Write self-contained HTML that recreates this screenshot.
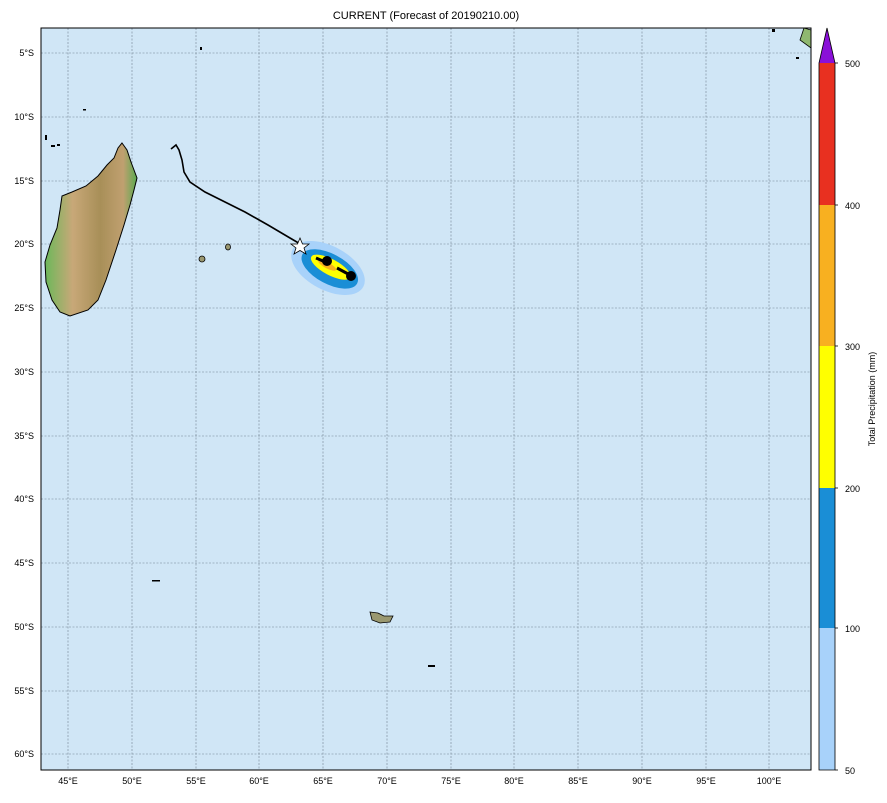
<!DOCTYPE html><html><head><style>body{margin:0;background:#fff;font-family:"Liberation Sans",sans-serif}</style></head><body>
<svg width="887" height="798" xmlns="http://www.w3.org/2000/svg" font-family="Liberation Sans, sans-serif">
<defs><linearGradient id="mg" x1="0" x2="1"><stop offset="0" stop-color="#6cb85a"/><stop offset="0.3" stop-color="#c8a878"/><stop offset="0.6" stop-color="#a88f58"/><stop offset="0.85" stop-color="#c0a070"/><stop offset="1" stop-color="#5aaa50"/></linearGradient></defs>
<text x="426" y="19" font-size="11" text-anchor="middle">CURRENT (Forecast of 20190210.00)</text>
<rect x="41" y="28" width="770" height="742" fill="#d0e6f6"/>
<g stroke="#4a5a68" stroke-width="0.6" stroke-dasharray="2,1.5" opacity="0.7">
<line x1="68" y1="28" x2="68" y2="770"/><line x1="132" y1="28" x2="132" y2="770"/><line x1="196" y1="28" x2="196" y2="770"/><line x1="259" y1="28" x2="259" y2="770"/><line x1="323" y1="28" x2="323" y2="770"/><line x1="387" y1="28" x2="387" y2="770"/><line x1="451" y1="28" x2="451" y2="770"/><line x1="514" y1="28" x2="514" y2="770"/><line x1="578" y1="28" x2="578" y2="770"/><line x1="642" y1="28" x2="642" y2="770"/><line x1="706" y1="28" x2="706" y2="770"/><line x1="769" y1="28" x2="769" y2="770"/>
<line x1="41" y1="53" x2="811" y2="53"/><line x1="41" y1="117" x2="811" y2="117"/><line x1="41" y1="181" x2="811" y2="181"/><line x1="41" y1="244" x2="811" y2="244"/><line x1="41" y1="308" x2="811" y2="308"/><line x1="41" y1="372" x2="811" y2="372"/><line x1="41" y1="436" x2="811" y2="436"/><line x1="41" y1="499" x2="811" y2="499"/><line x1="41" y1="563" x2="811" y2="563"/><line x1="41" y1="627" x2="811" y2="627"/><line x1="41" y1="691" x2="811" y2="691"/><line x1="41" y1="754" x2="811" y2="754"/>
</g>
<path d="M122,143 L127,150 L131,162 L137,178 L134,190 L130,205 L124,225 L116,250 L106,280 L98,300 L88,310 L70,316 L60,312 L52,300 L46,282 L45,262 L50,245 L57,228 L60,210 L62,196 L72,192 L86,186 L98,176 L107,165 L114,158 L118,148 Z" fill="url(#mg)" stroke="#000" stroke-width="1"/>
<path d="M804,28 L811,30 L811,48 L800,40 Z" fill="#8fb870" stroke="#000" stroke-width="0.8"/>
<ellipse cx="202" cy="259" rx="3" ry="3" fill="#9a9870" stroke="#000" stroke-width="0.8"/>
<ellipse cx="228" cy="247" rx="2.5" ry="3" fill="#9a9870" stroke="#000" stroke-width="0.8"/>
<path d="M370,612 L378,613 L384,616 L393,616 L390,622 L380,623 L372,620 Z" fill="#9a9870" stroke="#000" stroke-width="0.8"/>
<g fill="#000"><rect x="45" y="135" width="2" height="5"/><rect x="51" y="145" width="4" height="2"/><rect x="57" y="144" width="3" height="2"/><rect x="200" y="47" width="2" height="3"/><rect x="83" y="109" width="3" height="1.5"/><rect x="152" y="580" width="8" height="1.5"/><rect x="428" y="665" width="7" height="2"/><rect x="772" y="29" width="3" height="3"/><rect x="796" y="57" width="3" height="2"/></g>
<path d="M171,149 L176,145 L179,150 L182,160 L184,172 L190,182 L205,192 L225,202 L245,212 L268,225 L290,238 L302,245" fill="none" stroke="#000" stroke-width="1.6"/>
<g transform="rotate(28 328 268)">
<ellipse cx="328" cy="268" rx="40" ry="22" fill="#a8d2fa"/>
<ellipse cx="330" cy="268" rx="31" ry="15" fill="#1a8ed6"/>
<ellipse cx="330" cy="266" rx="22" ry="8" fill="#ffff00"/>
<ellipse cx="326" cy="266" rx="10" ry="3" fill="#f8b020"/>
</g>
<path d="M316,258 L330,264 M337,268 L350,275" stroke="#000" stroke-width="3"/>
<circle cx="327" cy="261" r="5" fill="#000"/><circle cx="351" cy="276" r="5" fill="#000"/>
<polygon points="300,238 302.5,244 309,244 304,248 306,254 300,250.5 294,254 296,248 291,244 297.5,244" fill="#fff" stroke="#000" stroke-width="0.8"/>
<rect x="41" y="28" width="770" height="742" fill="none" stroke="#000" stroke-width="1"/>
<g font-size="9" text-anchor="middle">
<text x="68" y="784">45°E</text><text x="132" y="784">50°E</text><text x="196" y="784">55°E</text><text x="259" y="784">60°E</text><text x="323" y="784">65°E</text><text x="387" y="784">70°E</text><text x="451" y="784">75°E</text><text x="514" y="784">80°E</text><text x="578" y="784">85°E</text><text x="642" y="784">90°E</text><text x="706" y="784">95°E</text><text x="769" y="784">100°E</text>
</g>
<g font-size="9" text-anchor="end">
<text x="34" y="56">5°S</text><text x="34" y="120">10°S</text><text x="34" y="184">15°S</text><text x="34" y="247">20°S</text><text x="34" y="311">25°S</text><text x="34" y="375">30°S</text><text x="34" y="439">35°S</text><text x="34" y="502">40°S</text><text x="34" y="566">45°S</text><text x="34" y="630">50°S</text><text x="34" y="694">55°S</text><text x="34" y="757">60°S</text>
</g>
<rect x="819" y="628" width="16" height="142" fill="#a8d2fa"/>
<rect x="819" y="488" width="16" height="140" fill="#1a8ed6"/>
<rect x="819" y="346" width="16" height="142" fill="#ffff00"/>
<rect x="819" y="205" width="16" height="141" fill="#f8b020"/>
<rect x="819" y="63" width="16" height="142" fill="#e83020"/>
<polygon points="819,63 835,63 827,28" fill="#8a10d8"/>
<path d="M819,63 L827,28 L835,63 L835,770 L819,770 Z" fill="none" stroke="#000" stroke-width="0.8"/>
<g font-size="9"><text x="845" y="67">500</text><text x="845" y="209">400</text><text x="845" y="350">300</text><text x="845" y="492">200</text><text x="845" y="632">100</text><text x="845" y="774">50</text></g>
<g stroke="#000" stroke-width="0.8"><line x1="835" y1="63" x2="838" y2="63"/><line x1="835" y1="205" x2="838" y2="205"/><line x1="835" y1="346" x2="838" y2="346"/><line x1="835" y1="488" x2="838" y2="488"/><line x1="835" y1="628" x2="838" y2="628"/><line x1="835" y1="770" x2="838" y2="770"/></g>
<text transform="translate(875,399) rotate(-90)" font-size="9" text-anchor="middle">Total Precipitation (mm)</text>
</svg></body></html>
